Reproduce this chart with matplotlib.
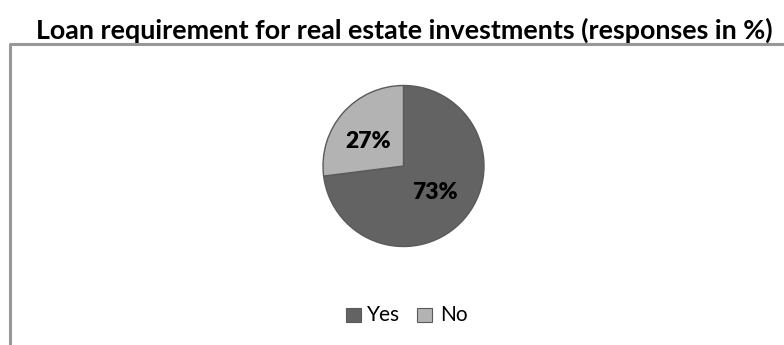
import matplotlib
matplotlib.use("Agg")
import matplotlib.pyplot as plt
from matplotlib.patches import Rectangle
from matplotlib import font_manager

title = "Loan requirement for real estate investments (responses in %)"
categories = ["Yes", "No"]
shares = [73, 27]
colors = ["#636363", "#b3b3b3"]

names = {f.name for f in font_manager.fontManager.ttflist}
family = "Lato" if "Lato" in names else "DejaVu Sans"
plt.rcParams["font.family"] = [family, "DejaVu Sans"]

W, H = 784, 345
fig = plt.figure(figsize=(W / 100, H / 100), dpi=100)
renderer = fig.canvas.get_renderer()


def fit_width(txt, target):
    size = txt.get_fontsize()
    txt.set_fontsize(size * target / txt.get_window_extent(renderer).width)


# chart frame (only top and left edges visible)
frame = fig.add_axes([0, 0, 1, 1])
frame.set_xlim(0, W)
frame.set_ylim(H, 0)
frame.axis("off")
frame.plot([10.5, 10.5, W], [H, 43.5, 43.5], color="#989898", lw=2.2, solid_capstyle="butt")

t = fig.text(404.5 / W, 1 - 30 / H, title, ha="center", va="center",
             fontsize=16, fontweight="bold")
fit_width(t, 743)

# pie
cx, cy, r = 403.5, 166, 80.5
ax = fig.add_axes([(cx - r) / W, 1 - (cy + r) / H, 2 * r / W, 2 * r / H])
wedges, texts = ax.pie(shares, colors=colors, startangle=90, counterclock=False,
                       wedgeprops=dict(edgecolor="#5a5a5a", linewidth=1.0))
ax.set_aspect("equal")
ax.set_xlim(-1, 1)
ax.set_ylim(-1, 1)

label_pos = [(435, 193), (368.5, 141)]
for (px, py), val in zip(label_pos, shares):
    fig.text(px / W, 1 - py / H, f"{val}%", ha="center", va="center",
             fontsize=16.5, fontweight="heavy")

# legend
leg_items = [(346, 367, "Yes"), (417, 440, "No")]
for (sx, tx, name), col in zip(leg_items, colors):
    frame.add_patch(Rectangle((sx + 0.5, 307.5), 15, 14.5, facecolor=col,
                              edgecolor="#5a5a5a", lw=0.8))
    frame.text(tx, 315, name, ha="left", va="center", fontsize=15)

fig.savefig("out.png", dpi=100)
